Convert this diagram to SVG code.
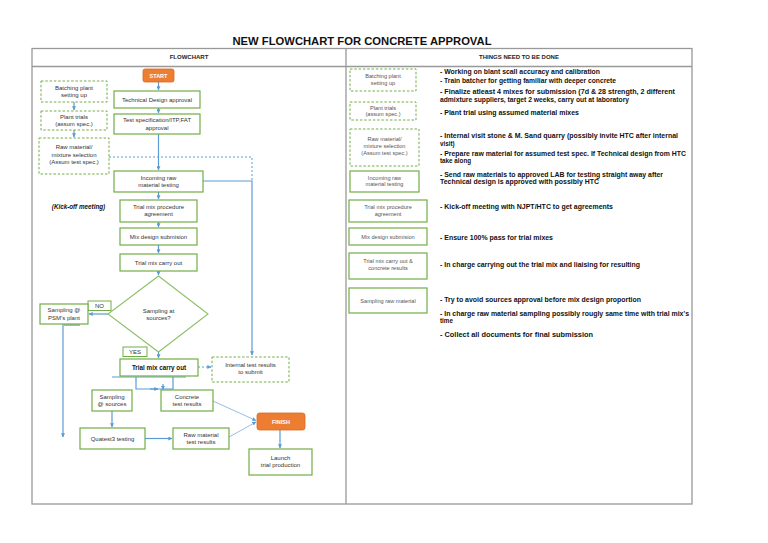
<svg xmlns="http://www.w3.org/2000/svg" width="768" height="543" viewBox="0 0 768 543">
<defs>
<marker id="ah" viewBox="0 0 6 6" refX="5.5" refY="3" markerWidth="4" markerHeight="4" orient="auto" markerUnits="userSpaceOnUse">
<path d="M0,0 L6,3 L0,6 z" fill="#5B9BD5"/>
</marker>
<style>
.t{font-family:"Liberation Sans",Arial,sans-serif;fill:#333;font-size:6px;text-anchor:middle}
.tr{font-family:"Liberation Sans",Arial,sans-serif;fill:#555;font-size:5.6px;text-anchor:middle}
.b{font-family:"Liberation Sans",Arial,sans-serif;fill:#111;font-size:6.3px;font-weight:bold}
.h{font-family:"Liberation Sans",Arial,sans-serif;fill:#222;font-size:6px;font-weight:bold;text-anchor:middle}
.n{fill:#fff;stroke:#70AD47;stroke-width:1.2}
.d{fill:#fff;stroke:#70AD47;stroke-width:1;stroke-dasharray:2.5,1.8}
.o{fill:#ED7D31;stroke:#D96A20;stroke-width:0.8}
.ot{font-family:"Liberation Sans",Arial,sans-serif;fill:#fff;font-size:5.5px;font-weight:bold;text-anchor:middle}
.c{fill:none;stroke:#5B9BD5;stroke-width:1.2}
.cd{fill:none;stroke:#5B9BD5;stroke-width:1;stroke-dasharray:2,2}
.cl{fill:none;stroke:#8DB6E0;stroke-width:0.9}
</style>
</defs>
<rect width="768" height="543" fill="#fff"/>
<text x="362" y="45" font-family="Liberation Sans,Arial,sans-serif" font-size="11.5" font-weight="bold" fill="#111" text-anchor="middle" textLength="259" lengthAdjust="spacingAndGlyphs">NEW FLOWCHART FOR CONCRETE APPROVAL</text>
<g id="table">
<rect x="32" y="48.5" width="660" height="455.5" fill="none" stroke="#999" stroke-width="1.3"/>
<line x1="32" y1="66.5" x2="692" y2="66.5" stroke="#999" stroke-width="1.3"/>
<line x1="346" y1="48.5" x2="346" y2="504" stroke="#999" stroke-width="1.3"/>
<text class="h" x="189" y="59">FLOWCHART</text>
<text class="h" x="519" y="59">THINGS NEED TO BE DONE</text>
</g>
<g id="connectors">
<path class="c" d="M158.5,82 V90" marker-end="url(#ah)"/>
<path class="c" d="M158.5,108 V113" marker-end="url(#ah)"/>
<path class="c" d="M158.5,134 V170" marker-end="url(#ah)"/>
<path class="c" d="M74,102 V110" marker-end="url(#ah)"/>
<path class="c" d="M74,130 V137" marker-end="url(#ah)"/>
<path class="cd" d="M109,157 H252 V181"/>
<path class="c" d="M203,181 H252 V355" marker-end="url(#ah)"/>
<path class="c" d="M158.5,192 V199" marker-end="url(#ah)"/>
<path class="c" d="M158.5,222 V227" marker-end="url(#ah)"/>
<path class="c" d="M158.5,245 V253" marker-end="url(#ah)"/>
<path class="c" d="M158.5,271 V275" marker-end="url(#ah)"/>
<path class="c" d="M108,314 H89" marker-end="url(#ah)"/>
<path class="c" d="M158.5,352 V358" marker-end="url(#ah)"/>
<path class="cd" d="M198,367 H211" marker-end="url(#ah)"/>
<path class="c" d="M63,324 V437" marker-end="url(#ah)"/>
<line x1="64" y1="325" x2="80" y2="325" stroke="#5B8FA8" stroke-width="1.2"/>
<path class="c" d="M112,377 H186"/>
<path class="c" d="M136,377 V389 H173 V377"/>
<path class="c" d="M150,389 H158" marker-end="url(#ah)"/>
<path class="c" d="M163,384 V389.5" marker-end="url(#ah)"/>
<path class="c" d="M112,411 V427" marker-end="url(#ah)"/>
<path class="c" d="M145,438.5 H172" marker-end="url(#ah)"/>
<path class="cl" d="M213,401 L256,420.5" marker-end="url(#ah)"/>
<path class="cl" d="M229,437 L256,422" marker-end="url(#ah)"/>
<path class="c" d="M280,430 V448" marker-end="url(#ah)"/>
</g>
<g id="start"><rect class="o" x="143" y="69" width="31" height="13" rx="2"/><text class="ot" x="158.5" y="77.5">START</text></g>
<g id="batching"><rect class="d" x="41" y="81" width="66" height="21"/><text class="t" x="74" y="90">Batching plant</text><text class="t" x="74" y="97">setting up</text></g>
<g id="techdesign"><rect class="n" x="114" y="91" width="86" height="17"/><text class="t" x="157" y="101.5">Technical Design approval</text></g>
<g id="planttrials"><rect class="d" x="41" y="111" width="66" height="19"/><text class="t" x="74" y="119">Plant trials</text><text class="t" x="74" y="126">(assum spec.)</text></g>
<g id="testspec"><rect class="n" x="114" y="114" width="86" height="20"/><text class="t" x="157" y="122">Test specification/ITP,FAT</text><text class="t" x="157" y="129.5">approval</text></g>
<g id="rawsel"><rect class="d" x="39" y="138" width="70" height="36"/><text class="t" x="74" y="149">Raw material/</text><text class="t" x="74" y="156.5">mixture selection</text><text class="t" x="74" y="164">(Assum test spec.)</text></g>
<g id="incoming"><rect class="n" x="114" y="171" width="89" height="21"/><text class="t" x="158.5" y="179.5">Incoming raw</text><text class="t" x="158.5" y="187">material testing</text></g>
<text x="78.5" y="209" font-family="Liberation Sans,Arial,sans-serif" font-size="6.3" font-weight="bold" font-style="italic" fill="#111" text-anchor="middle">(Kick-off meeting)</text>
<g id="procedure"><rect class="n" x="120" y="200" width="77" height="22"/><text class="t" x="158.5" y="209">Trial mix procedure</text><text class="t" x="158.5" y="216">agreement</text></g>
<g id="mixdesign"><rect class="n" x="120" y="228" width="77" height="17"/><text class="t" x="158.5" y="238.5">Mix design submision</text></g>
<g id="trialmix1"><rect class="n" x="120" y="254" width="77" height="17"/><text class="t" x="158.5" y="264.5">Trial mix carry out</text></g>
<g id="decision"><polygon points="158.5,276 208,314 158.5,352 108,314" fill="#fff" stroke="#8CC068" stroke-width="1.1"/><text class="t" x="158.5" y="312.5">Sampling at</text><text class="t" x="158.5" y="319.5">sources?</text></g>
<g id="no"><rect x="88" y="301" width="23" height="9.5" fill="#fff" stroke="#70AD47" stroke-width="1"/><text class="t" x="99.5" y="308">NO</text></g>
<g id="psm"><rect class="n" x="40" y="304" width="48" height="20"/><text class="t" x="64" y="312">Sampling @</text><text class="t" x="64" y="319.5">PSM's plant</text></g>
<g id="yes"><rect x="123" y="347" width="24" height="9.5" fill="#fff" stroke="#70AD47" stroke-width="1"/><text class="t" x="135" y="354">YES</text></g>
<g id="trialmix2"><rect class="n" x="120" y="359" width="78" height="17"/><text x="159" y="369.5" font-family="Liberation Sans,Arial,sans-serif" font-size="6.3" font-weight="bold" fill="#111" text-anchor="middle">Trial mix carry out</text></g>
<g id="internal"><rect class="d" x="212" y="357" width="77" height="25"/><text class="t" x="250.5" y="366.5">Internal test results</text><text class="t" x="250.5" y="373.5">to submit</text></g>
<g id="sampsrc"><rect class="n" x="92" y="390" width="40" height="21"/><text class="t" x="112" y="398.5">Sampling</text><text class="t" x="112" y="406">@ sources</text></g>
<g id="concrete"><rect class="n" x="161" y="390" width="52" height="21"/><text class="t" x="187" y="398.5">Concrete</text><text class="t" x="187" y="406">test results</text></g>
<g id="quatest"><rect class="n" x="80" y="428" width="65" height="21"/><text class="t" x="112.5" y="440.5">Quatest3 testing</text></g>
<g id="rawres"><rect class="n" x="173" y="428" width="56" height="21"/><text class="t" x="201" y="436.5">Raw material</text><text class="t" x="201" y="444">test results</text></g>
<g id="finish"><rect class="o" x="257" y="413" width="48" height="17" rx="2.5"/><text class="ot" x="281" y="423.5">FINISH</text></g>
<g id="launch"><rect class="n" x="249" y="449" width="63" height="26"/><text class="t" x="280.5" y="459.5">Launch</text><text class="t" x="280.5" y="467">trial production</text></g>
<g id="r-batching"><rect class="d" x="350" y="69" width="66" height="22"/><text class="tr" x="383" y="77.5">Batching plant</text><text class="tr" x="383" y="84.5">setting up</text></g>
<g id="r-plant"><rect class="d" x="350" y="102" width="66" height="18"/><text class="tr" x="383" y="109.5">Plant trials</text><text class="tr" x="383" y="116">(assum spec.)</text></g>
<g id="r-raw"><rect class="d" x="350" y="129" width="69" height="37"/><text class="tr" x="384.5" y="141">Raw material/</text><text class="tr" x="384.5" y="148">mixture selection</text><text class="tr" x="384.5" y="155">(Assum test spec.)</text></g>
<g id="r-incoming"><rect class="n" x="350" y="171" width="69" height="21"/><text class="tr" x="384.5" y="179.5">Incoming raw</text><text class="tr" x="384.5" y="186">material testing</text></g>
<g id="r-procedure"><rect class="n" x="349" y="200" width="78" height="22"/><text class="tr" x="388" y="209">Trial mix procedure</text><text class="tr" x="388" y="215.5">agreement</text></g>
<g id="r-mixdesign"><rect class="n" x="349" y="228" width="78" height="17"/><text class="tr" x="388" y="238.5">Mix design submision</text></g>
<g id="r-trialmix"><rect class="n" x="349" y="253" width="78" height="26"/><text class="tr" x="388" y="263">Trial mix carry out &amp;</text><text class="tr" x="388" y="270">concrete results</text></g>
<g id="r-sampling"><rect class="n" x="349" y="288" width="78" height="25"/><text class="tr" x="388" y="302.5">Sampling raw material</text></g>
<g id="notes">
<text class="b" x="440" y="74" textLength="160" lengthAdjust="spacingAndGlyphs">- Working on blant scall accuracy and calibration</text>
<text class="b" x="440" y="82.5" textLength="176" lengthAdjust="spacingAndGlyphs">- Train batcher for getting familiar with deeper concrete</text>
<text class="b" x="440" y="94" textLength="235" lengthAdjust="spacingAndGlyphs">- Finalize atleast 4 mixes for submission (7d &amp; 28 strength, 2 different</text>
<text class="b" x="440" y="101.5" textLength="189" lengthAdjust="spacingAndGlyphs">admixture suppliers, target 2 weeks, carry out at laboratory</text>
<text class="b" x="440" y="114.5" textLength="139" lengthAdjust="spacingAndGlyphs">- Plant trial using assumed material mixes</text>
<text class="b" x="440" y="138" textLength="238" lengthAdjust="spacingAndGlyphs">- Internal visit stone &amp; M. Sand quarry  (possibly invite HTC after internal</text>
<text class="b" x="440" y="145.5">visit)</text>
<text class="b" x="440" y="156" textLength="246" lengthAdjust="spacingAndGlyphs">- Prepare raw material for assumed test spec. If Technical design from HTC</text>
<text class="b" x="440" y="163">take along</text>
<text class="b" x="440" y="176.5" textLength="223" lengthAdjust="spacingAndGlyphs">- Send raw materials to approved LAB for testing straight away after</text>
<text class="b" x="440" y="184" textLength="159" lengthAdjust="spacingAndGlyphs">Technical design is approved with possibly HTC</text>
<text class="b" x="440" y="208.5" textLength="173" lengthAdjust="spacingAndGlyphs">- Kick-off meeting with NJPT/HTC to get agreements</text>
<text class="b" x="440" y="239.5" textLength="113" lengthAdjust="spacingAndGlyphs">- Ensure 100% pass for trial mixes</text>
<text class="b" x="440" y="266.5" textLength="200" lengthAdjust="spacingAndGlyphs">- In charge carrying out the trial mix and liaising for resulting</text>
<text class="b" x="440" y="301.5" textLength="201" lengthAdjust="spacingAndGlyphs">- Try to avoid sources approval before mix design proportion</text>
<text class="b" x="440" y="315.5" textLength="249" lengthAdjust="spacingAndGlyphs">- In charge raw material sampling possibly rougly same time with trial mix's</text>
<text class="b" x="440" y="323">time</text>
<text class="b" x="440" y="336.5" textLength="153" lengthAdjust="spacingAndGlyphs">- Collect all documents for final submission</text>
</g>
</svg>
